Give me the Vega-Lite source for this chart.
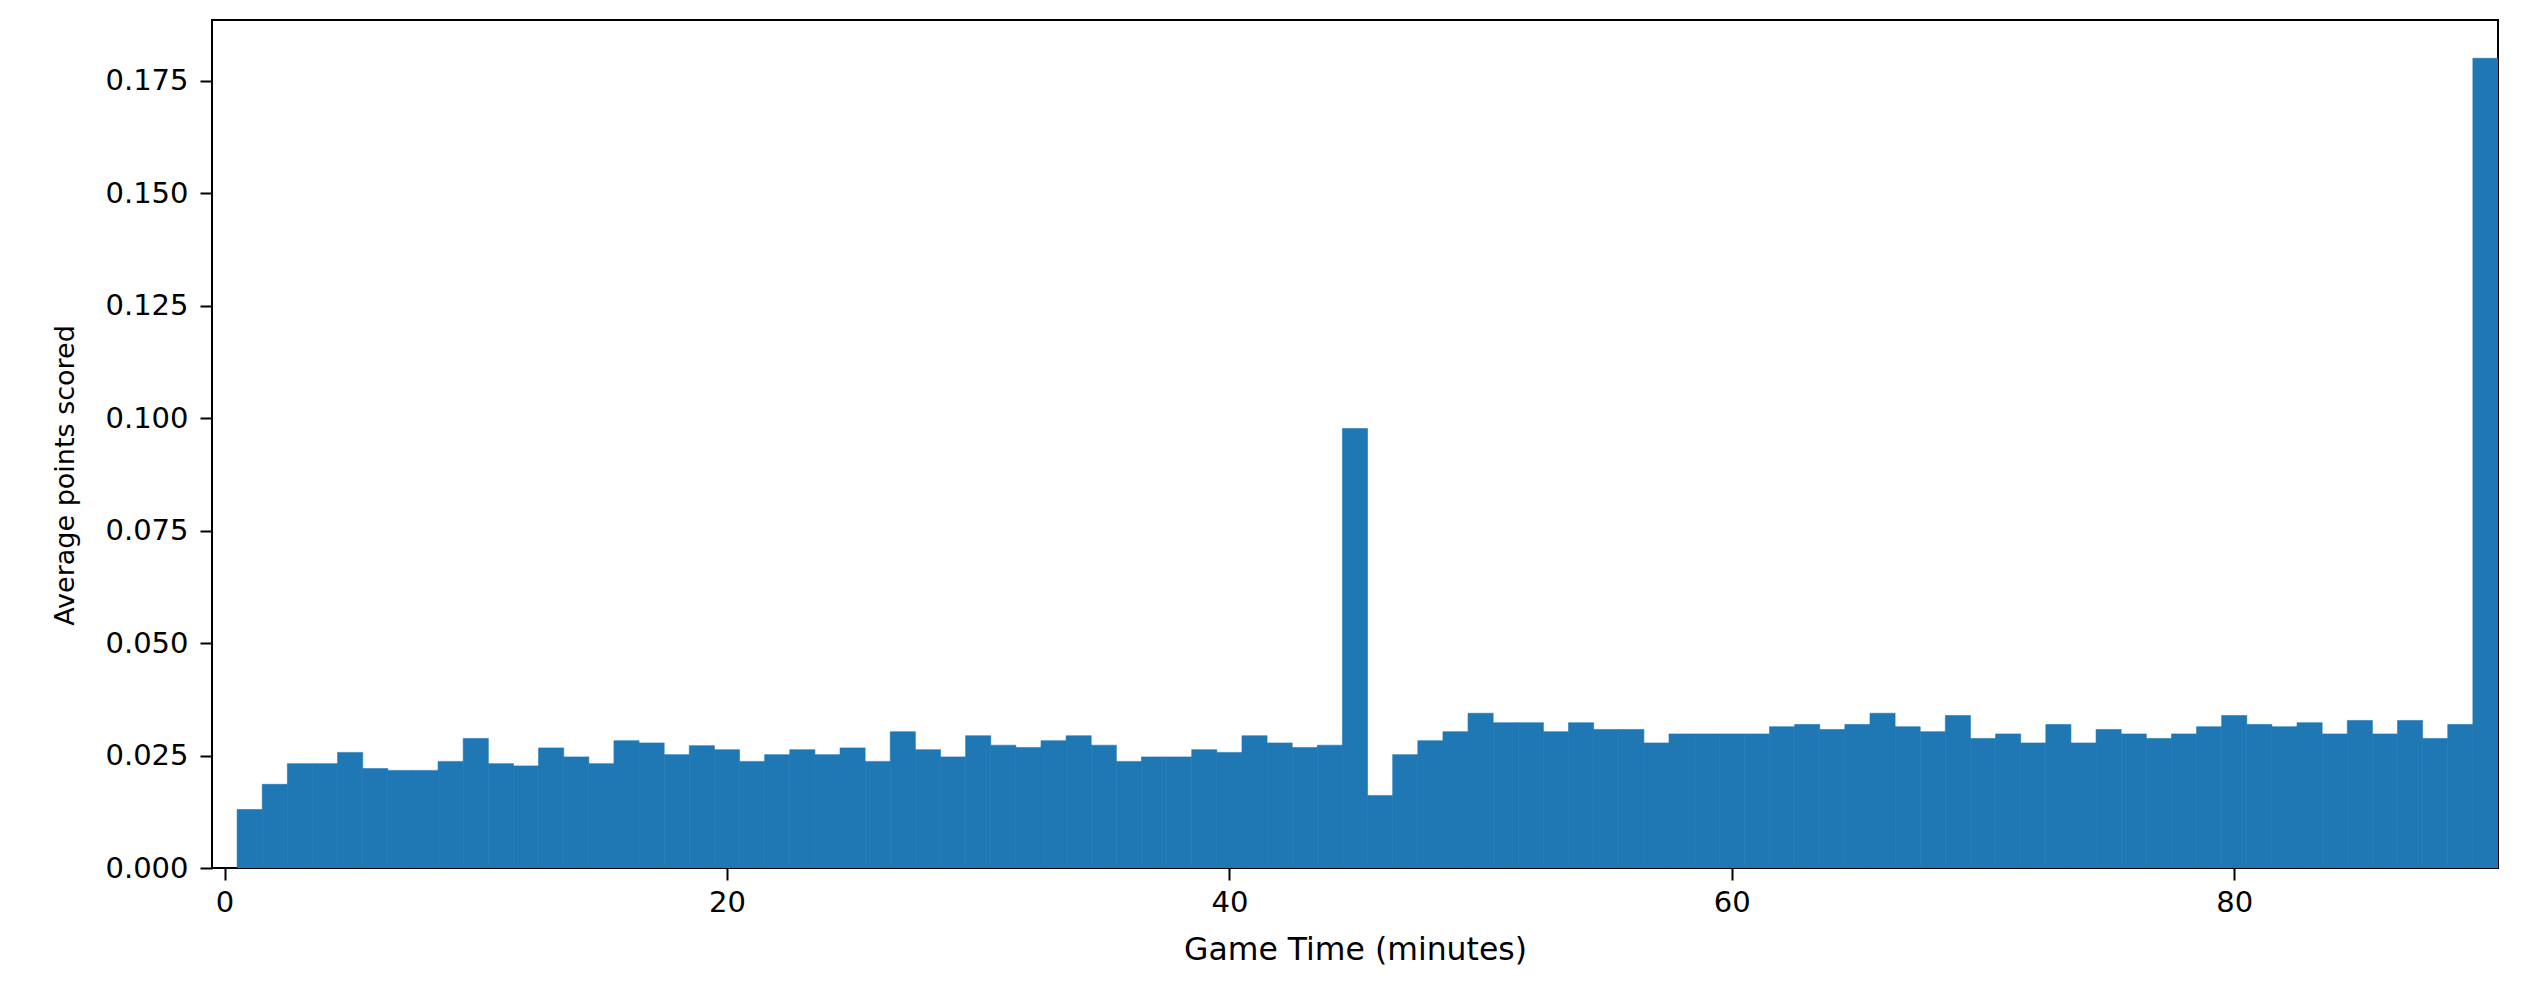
{
  "$schema": "https://vega.github.io/schema/vega-lite/v6.json",
  "autosize": {"type": "none"},
  "padding": {"left": 212, "top": 20, "right": 41, "bottom": 122},
  "width": 2286,
  "height": 848,
  "background": "white",
  "config": {
    "view": {"stroke": "#000000", "strokeWidth": 2},
    "font": "DejaVu Sans"
  },
  "data": {
    "values": [
      {"start": 0.5, "end": 1.5, "pts": 0.0130},
      {"start": 1.5, "end": 2.5, "pts": 0.0186},
      {"start": 2.5, "end": 3.5, "pts": 0.0232},
      {"start": 3.5, "end": 4.5, "pts": 0.0232},
      {"start": 4.5, "end": 5.5, "pts": 0.0257},
      {"start": 5.5, "end": 6.5, "pts": 0.0221},
      {"start": 6.5, "end": 7.5, "pts": 0.0217},
      {"start": 7.5, "end": 8.5, "pts": 0.0217},
      {"start": 8.5, "end": 9.5, "pts": 0.0237},
      {"start": 9.5, "end": 10.5, "pts": 0.0288},
      {"start": 10.5, "end": 11.5, "pts": 0.0232},
      {"start": 11.5, "end": 12.5, "pts": 0.0227},
      {"start": 12.5, "end": 13.5, "pts": 0.0267},
      {"start": 13.5, "end": 14.5, "pts": 0.0247},
      {"start": 14.5, "end": 15.5, "pts": 0.0232},
      {"start": 15.5, "end": 16.5, "pts": 0.0283},
      {"start": 16.5, "end": 17.5, "pts": 0.0278},
      {"start": 17.5, "end": 18.5, "pts": 0.0252},
      {"start": 18.5, "end": 19.5, "pts": 0.0272},
      {"start": 19.5, "end": 20.5, "pts": 0.0263},
      {"start": 20.5, "end": 21.5, "pts": 0.0237},
      {"start": 21.5, "end": 22.5, "pts": 0.0252},
      {"start": 22.5, "end": 23.5, "pts": 0.0263},
      {"start": 23.5, "end": 24.5, "pts": 0.0252},
      {"start": 24.5, "end": 25.5, "pts": 0.0267},
      {"start": 25.5, "end": 26.5, "pts": 0.0237},
      {"start": 26.5, "end": 27.5, "pts": 0.0303},
      {"start": 27.5, "end": 28.5, "pts": 0.0263},
      {"start": 28.5, "end": 29.5, "pts": 0.0247},
      {"start": 29.5, "end": 30.5, "pts": 0.0294},
      {"start": 30.5, "end": 31.5, "pts": 0.0273},
      {"start": 31.5, "end": 32.5, "pts": 0.0268},
      {"start": 32.5, "end": 33.5, "pts": 0.0283},
      {"start": 33.5, "end": 34.5, "pts": 0.0294},
      {"start": 34.5, "end": 35.5, "pts": 0.0273},
      {"start": 35.5, "end": 36.5, "pts": 0.0237},
      {"start": 36.5, "end": 37.5, "pts": 0.0247},
      {"start": 37.5, "end": 38.5, "pts": 0.0247},
      {"start": 38.5, "end": 39.5, "pts": 0.0263},
      {"start": 39.5, "end": 40.5, "pts": 0.0257},
      {"start": 40.5, "end": 41.5, "pts": 0.0294},
      {"start": 41.5, "end": 42.5, "pts": 0.0278},
      {"start": 42.5, "end": 43.5, "pts": 0.0268},
      {"start": 43.5, "end": 44.5, "pts": 0.0273},
      {"start": 44.5, "end": 45.5, "pts": 0.0977},
      {"start": 45.5, "end": 46.5, "pts": 0.0161},
      {"start": 46.5, "end": 47.5, "pts": 0.0252},
      {"start": 47.5, "end": 48.5, "pts": 0.0283},
      {"start": 48.5, "end": 49.5, "pts": 0.0303},
      {"start": 49.5, "end": 50.5, "pts": 0.0344},
      {"start": 50.5, "end": 51.5, "pts": 0.0323},
      {"start": 51.5, "end": 52.5, "pts": 0.0323},
      {"start": 52.5, "end": 53.5, "pts": 0.0303},
      {"start": 53.5, "end": 54.5, "pts": 0.0323},
      {"start": 54.5, "end": 55.5, "pts": 0.0308},
      {"start": 55.5, "end": 56.5, "pts": 0.0308},
      {"start": 56.5, "end": 57.5, "pts": 0.0278},
      {"start": 57.5, "end": 58.5, "pts": 0.0298},
      {"start": 58.5, "end": 59.5, "pts": 0.0298},
      {"start": 59.5, "end": 60.5, "pts": 0.0298},
      {"start": 60.5, "end": 61.5, "pts": 0.0298},
      {"start": 61.5, "end": 62.5, "pts": 0.0314},
      {"start": 62.5, "end": 63.5, "pts": 0.0319},
      {"start": 63.5, "end": 64.5, "pts": 0.0308},
      {"start": 64.5, "end": 65.5, "pts": 0.0319},
      {"start": 65.5, "end": 66.5, "pts": 0.0344},
      {"start": 66.5, "end": 67.5, "pts": 0.0314},
      {"start": 67.5, "end": 68.5, "pts": 0.0303},
      {"start": 68.5, "end": 69.5, "pts": 0.0339},
      {"start": 69.5, "end": 70.5, "pts": 0.0288},
      {"start": 70.5, "end": 71.5, "pts": 0.0298},
      {"start": 71.5, "end": 72.5, "pts": 0.0278},
      {"start": 72.5, "end": 73.5, "pts": 0.0319},
      {"start": 73.5, "end": 74.5, "pts": 0.0278},
      {"start": 74.5, "end": 75.5, "pts": 0.0308},
      {"start": 75.5, "end": 76.5, "pts": 0.0298},
      {"start": 76.5, "end": 77.5, "pts": 0.0288},
      {"start": 77.5, "end": 78.5, "pts": 0.0298},
      {"start": 78.5, "end": 79.5, "pts": 0.0314},
      {"start": 79.5, "end": 80.5, "pts": 0.0339},
      {"start": 80.5, "end": 81.5, "pts": 0.0319},
      {"start": 81.5, "end": 82.5, "pts": 0.0314},
      {"start": 82.5, "end": 83.5, "pts": 0.0323},
      {"start": 83.5, "end": 84.5, "pts": 0.0298},
      {"start": 84.5, "end": 85.5, "pts": 0.0328},
      {"start": 85.5, "end": 86.5, "pts": 0.0298},
      {"start": 86.5, "end": 87.5, "pts": 0.0328},
      {"start": 87.5, "end": 88.5, "pts": 0.0288},
      {"start": 88.5, "end": 89.5, "pts": 0.0319},
      {"start": 89.5, "end": 90.5, "pts": 0.1800}
    ]
  },
  "mark": {"type": "bar", "color": "#1f77b4", "stroke": "#1f77b4", "strokeWidth": 0.6, "clip": true},
  "encoding": {
    "x": {
      "field": "start",
      "type": "quantitative",
      "scale": {"domain": [-0.5, 90.5], "nice": false, "zero": false},
      "axis": {
        "title": "Game Time (minutes)",
        "values": [0, 20, 40, 60, 80],
        "format": "d",
        "grid": false,
        "domain": false,
        "tickColor": "#000000",
        "tickSize": 12,
        "tickWidth": 2,
        "labelFontSize": 29,
        "labelColor": "#000000",
        "labelPadding": 8,
        "labelFont": "DejaVu Sans",
        "titleFont": "DejaVu Sans",
        "titleFontSize": 31.5,
        "titleFontWeight": "normal",
        "titleColor": "#000000",
        "titleX": 1143,
        "titleY": 82,
        "titleBaseline": "middle",
        "titleAlign": "center"
      }
    },
    "x2": {"field": "end"},
    "y": {
      "field": "pts",
      "type": "quantitative",
      "scale": {"domain": [0, 0.1885], "nice": false},
      "axis": {
        "title": "Average points scored",
        "values": [0, 0.025, 0.05, 0.075, 0.1, 0.125, 0.15, 0.175],
        "format": ".3f",
        "grid": false,
        "domain": false,
        "tickColor": "#000000",
        "tickSize": 12,
        "tickWidth": 2,
        "labelFontSize": 29,
        "labelColor": "#000000",
        "labelPadding": 12,
        "labelFont": "DejaVu Sans",
        "titleFont": "DejaVu Sans",
        "titleFontSize": 27,
        "titleFontWeight": "normal",
        "titleColor": "#000000",
        "titleX": -147,
        "titleY": 455,
        "titleBaseline": "middle",
        "titleAlign": "center",
        "titleAngle": -90
      }
    },
    "y2": {"datum": 0}
  }
}
